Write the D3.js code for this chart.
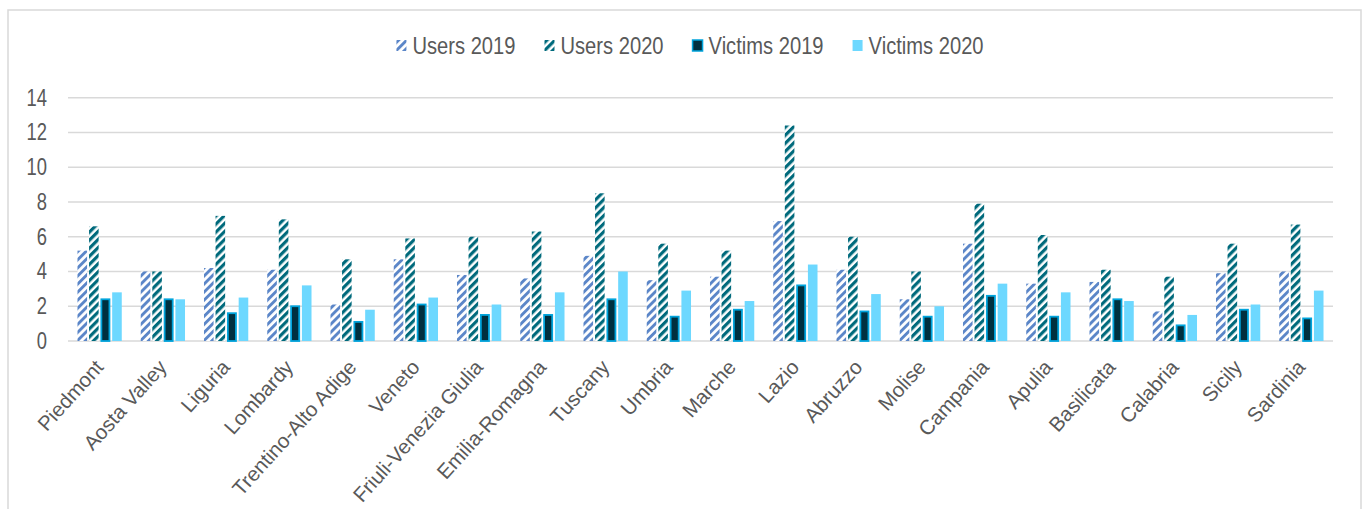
<!DOCTYPE html>
<html>
<head>
<meta charset="utf-8">
<script src="https://cdn.jsdelivr.net/npm/d3@7/dist/d3.min.js"></script>
<style>
body { margin: 0; background: #fff; }
text { font-family: "Liberation Sans", Arial, sans-serif; fill: #595959; }
</style>
</head>
<body>
<svg id="chart" width="1365" height="509"></svg>
<script>
var regions = ["Piedmont", "Aosta Valley", "Liguria", "Lombardy", "Trentino-Alto Adige", "Veneto",
  "Friuli-Venezia Giulia", "Emilia-Romagna", "Tuscany", "Umbria", "Marche", "Lazio", "Abruzzo",
  "Molise", "Campania", "Apulia", "Basilicata", "Calabria", "Sicily", "Sardinia"];
var users2019 = [5.2, 4.0, 4.2, 4.1, 2.1, 4.7, 3.8, 3.6, 4.9, 3.5, 3.7, 6.9, 4.1, 2.4, 5.6, 3.3, 3.4, 1.7, 3.9, 4.0];
var users2020 = [6.6, 4.0, 7.2, 7.0, 4.7, 5.9, 6.0, 6.3, 8.5, 5.6, 5.2, 12.4, 6.0, 4.0, 7.9, 6.1, 4.1, 3.7, 5.6, 6.7];
var victims2019 = [2.4, 2.4, 1.6, 2.0, 1.1, 2.1, 1.5, 1.5, 2.4, 1.4, 1.8, 3.2, 1.7, 1.4, 2.6, 1.4, 2.4, 0.9, 1.8, 1.3];
var victims2020 = [2.8, 2.4, 2.5, 3.2, 1.8, 2.5, 2.1, 2.8, 4.0, 2.9, 2.3, 4.4, 2.7, 2.0, 3.3, 2.8, 2.3, 1.5, 2.1, 2.9];
var seriesNames = ["Users 2019", "Users 2020", "Victims 2019", "Victims 2020"];
var yTicks = [0, 2, 4, 6, 8, 10, 12, 14];

var seriesValues = [users2019, users2020, victims2019, victims2020];
var sx = 0.8; // tick text is a bit condensed in the picture

var svg = d3.select("#chart");

// frame
svg.append("rect")
  .attr("x", 8).attr("y", 10).attr("width", 1353).attr("height", 540)
  .attr("fill", "#fff").attr("stroke", "#d9d9d9").attr("stroke-width", 1.5);

// stripe patterns
var defs = svg.append("defs");
function stripes(id, color, w) {
  var p = defs.append("pattern")
    .attr("id", id)
    .attr("patternUnits", "userSpaceOnUse")
    .attr("width", 5.7).attr("height", 5.7)
    .attr("patternTransform", "rotate(45)");
  p.append("rect").attr("width", 5.7).attr("height", 5.7).attr("fill", "#fff");
  p.append("rect").attr("width", w).attr("height", 5.7).attr("fill", color);
}
stripes("u19", "#5b86c8", 2.9);
stripes("u20", "#006a7c", 3.2);

var fills = ["url(#u19)", "url(#u20)", "#00303f", "#6dd8ff"];
var strokes = ["none", "none", "#00a4dc", "none"];

var x0 = d3.scaleBand().domain(regions).range([68, 1333]).paddingInner(0.3).paddingOuter(0.15);
var x1 = d3.scaleBand().domain(d3.range(4)).range([0, x0.bandwidth()]).paddingInner(0.17);
var y = d3.scaleLinear().domain([0, 14]).range([341, 97.7]);

// gridlines
svg.append("g").selectAll("line").data(yTicks).join("line")
  .attr("x1", 68).attr("x2", 1333)
  .attr("y1", function(d) { return y(d); }).attr("y2", function(d) { return y(d); })
  .attr("stroke", "#d9d9d9").attr("stroke-width", 1.6);

// y tick labels
svg.append("g").selectAll("text").data(yTicks).join("text")
  .attr("transform", function(d) { return "translate(47," + (y(d) + 8) + ") scale(" + sx + ",1)"; })
  .attr("text-anchor", "end")
  .attr("font-size", 23)
  .text(function(d) { return d; });

// bars
var groups = svg.append("g").selectAll("g").data(regions).join("g")
  .attr("transform", function(d) { return "translate(" + x0(d) + ",0)"; });

groups.selectAll("rect")
  .data(function(d, i) { return seriesValues.map(function(s, k) { return { k: k, v: s[i] }; }); })
  .join("rect")
  .attr("x", function(d) { return x1(d.k) + (strokes[d.k] != "none" ? 0.75 : 0); })
  .attr("y", function(d) { return y(d.v); })
  .attr("width", function(d) { return x1.bandwidth() - (strokes[d.k] != "none" ? 1.5 : 0); })
  .attr("height", function(d) { return y(0) - y(d.v); })
  .attr("fill", function(d) { return fills[d.k]; })
  .attr("stroke", function(d) { return strokes[d.k]; })
  .attr("stroke-width", 1.8);

// category labels
svg.append("g").selectAll("text").data(regions).join("text")
  .attr("transform", function(d) {
    var cx = x0(d) + x0.bandwidth() / 2 + 5;
    return "translate(" + cx + ",368) rotate(-48)";
  })
  .attr("text-anchor", "end")
  .attr("font-size", 20.5)
  .text(function(d) { return d; });

// legend
var lsx = 0.84;
var legend = svg.append("g");
var lx = 0;
seriesNames.forEach(function(name, k) {
  var item = legend.append("g").attr("transform", "translate(" + lx + ",0)");
  item.append("rect")
    .attr("x", 0).attr("y", 40).attr("width", 10).attr("height", 11)
    .attr("fill", fills[k])
    .attr("stroke", strokes[k]).attr("stroke-width", 1.5);
  var t = item.append("text")
    .attr("transform", "translate(16,54) scale(" + lsx + ",1)")
    .attr("font-size", 24)
    .text(name);
  lx += 16 + t.node().getComputedTextLength() * lsx + 29;
});
var legendWidth = lx - 29;
legend.attr("transform", "translate(" + (690 - legendWidth / 2) + ",0)");
</script>
</body>
</html>
